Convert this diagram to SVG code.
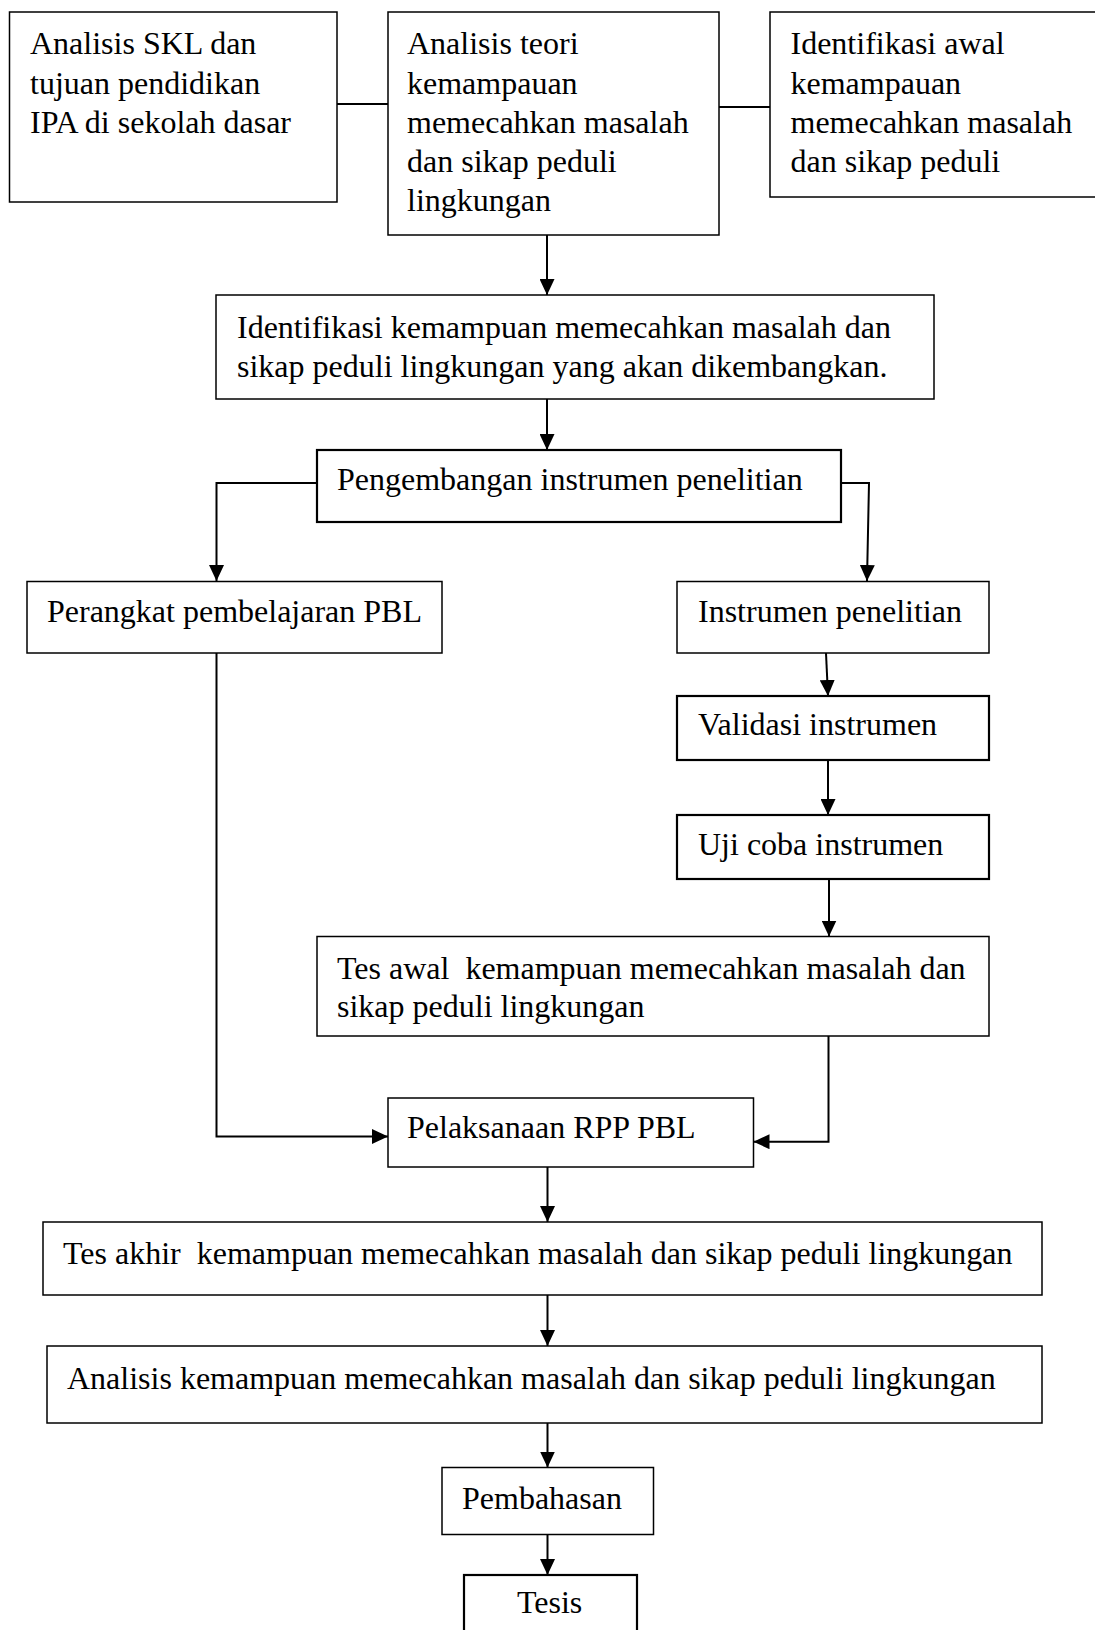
<svg xmlns="http://www.w3.org/2000/svg" width="1095" height="1630" viewBox="0 0 1095 1630">
<style>
.box{fill:#fff;stroke:#000;stroke-width:1.5}
.bold{stroke-width:2.2}
.t{font-family:"Liberation Serif","Times New Roman",serif;font-size:32px;fill:#000}
.c{fill:none;stroke:#000;stroke-width:2}
</style>
<defs>
<marker id="ah" markerUnits="userSpaceOnUse" markerWidth="16" markerHeight="15" refX="16" refY="7.5" orient="auto">
<path d="M0,0 L16,7.5 L0,15 z" fill="#000"/>
</marker>
</defs>
<rect width="1095" height="1630" fill="#fff"/>
<g id="connectors">
<line class="c" x1="337" y1="104" x2="388" y2="104"/>
<line class="c" x1="719" y1="107" x2="770" y2="107"/>
<line class="c" x1="547" y1="235" x2="547" y2="295" marker-end="url(#ah)"/>
<line class="c" x1="547" y1="399" x2="547" y2="450" marker-end="url(#ah)"/>
<polyline class="c" points="317,483 216.5,483 216.5,581" marker-end="url(#ah)"/>
<polyline class="c" points="841,483 869,483 867,581" marker-end="url(#ah)"/>
<line class="c" x1="826" y1="653" x2="828" y2="696" marker-end="url(#ah)"/>
<line class="c" x1="828" y1="760" x2="828" y2="815" marker-end="url(#ah)"/>
<line class="c" x1="829" y1="879" x2="829" y2="936.5" marker-end="url(#ah)"/>
<polyline class="c" points="216.5,653 216.5,1136.5 388,1136.5" marker-end="url(#ah)"/>
<polyline class="c" points="828.5,1036 828.5,1141.7 753.5,1141.7" marker-end="url(#ah)"/>
<line class="c" x1="547.5" y1="1167" x2="547.5" y2="1222" marker-end="url(#ah)"/>
<line class="c" x1="547.5" y1="1295" x2="547.5" y2="1346" marker-end="url(#ah)"/>
<line class="c" x1="547.5" y1="1423" x2="547.5" y2="1467.5" marker-end="url(#ah)"/>
<line class="c" x1="547.5" y1="1534.5" x2="547.5" y2="1575" marker-end="url(#ah)"/>
</g>
<g id="n1">
<rect class="box" x="9.5" y="12" width="327.5" height="190"/>
<text class="t" x="30" y="54">Analisis SKL dan</text>
<text class="t" x="30" y="93.5">tujuan pendidikan</text>
<text class="t" x="30" y="133">IPA di sekolah dasar</text>
</g>
<g id="n2">
<rect class="box" x="388" y="12" width="331" height="223"/>
<text class="t" x="407" y="54">Analisis teori</text>
<text class="t" x="407" y="93.5">kemampauan</text>
<text class="t" x="407" y="133">memecahkan masalah</text>
<text class="t" x="407" y="172">dan sikap peduli</text>
<text class="t" x="407" y="211">lingkungan</text>
</g>
<g id="n3">
<rect class="box" x="770" y="12" width="340" height="185"/>
<text class="t" x="790.5" y="54">Identifikasi awal</text>
<text class="t" x="790.5" y="93.5">kemampauan</text>
<text class="t" x="790.5" y="133">memecahkan masalah</text>
<text class="t" x="790.5" y="172">dan sikap peduli</text>
</g>
<g id="n4">
<rect class="box" x="216" y="295" width="718" height="104"/>
<text class="t" x="237" y="338">Identifikasi kemampuan memecahkan masalah dan</text>
<text class="t" x="237" y="377">sikap peduli lingkungan yang akan dikembangkan.</text>
</g>
<g id="n5">
<rect class="box bold" x="317" y="450" width="524" height="72"/>
<text class="t" x="337" y="490">Pengembangan instrumen penelitian</text>
</g>
<g id="n6">
<rect class="box" x="27" y="581.5" width="415" height="71.5"/>
<text class="t" x="47" y="622">Perangkat pembelajaran PBL</text>
</g>
<g id="n7">
<rect class="box" x="677" y="581.5" width="312" height="71.5"/>
<text class="t" x="698" y="622">Instrumen penelitian</text>
</g>
<g id="n8">
<rect class="box bold" x="677" y="696" width="312" height="64"/>
<text class="t" x="698" y="735">Validasi instrumen</text>
</g>
<g id="n9">
<rect class="box bold" x="677" y="815" width="312" height="64"/>
<text class="t" x="698" y="855">Uji coba instrumen</text>
</g>
<g id="n10">
<rect class="box" x="317" y="936.5" width="672" height="99.5"/>
<text class="t" x="337" y="979" xml:space="preserve">Tes awal  kemampuan memecahkan masalah dan</text>
<text class="t" x="337" y="1017">sikap peduli lingkungan</text>
</g>
<g id="n11">
<rect class="box" x="388" y="1098" width="365.5" height="69"/>
<text class="t" x="407" y="1138">Pelaksanaan RPP PBL</text>
</g>
<g id="n12">
<rect class="box" x="43" y="1222" width="999" height="73"/>
<text class="t" x="63" y="1264" xml:space="preserve">Tes akhir  kemampuan memecahkan masalah dan sikap peduli lingkungan</text>
</g>
<g id="n13">
<rect class="box" x="47" y="1346" width="995" height="77"/>
<text class="t" x="67" y="1389">Analisis kemampuan memecahkan masalah dan sikap peduli lingkungan</text>
</g>
<g id="n14">
<rect class="box" x="442" y="1467.5" width="211.5" height="67"/>
<text class="t" x="462" y="1509">Pembahasan</text>
</g>
<g id="n15">
<rect class="box bold" x="464" y="1575" width="173" height="80"/>
<text class="t" x="517" y="1613">Tesis</text>
</g>
</svg>
